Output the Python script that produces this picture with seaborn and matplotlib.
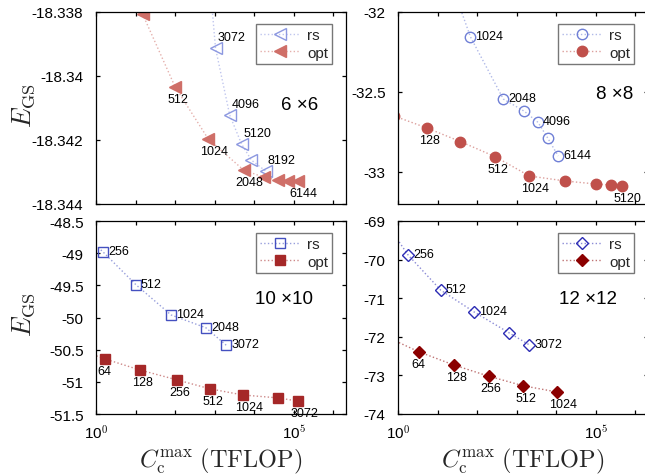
import math

import matplotlib
matplotlib.use("Agg")
import matplotlib.pyplot as plt
import pandas as pd
import seaborn as sns
from matplotlib.colors import to_rgb
from matplotlib.ticker import FixedLocator, FuncFormatter, NullLocator

# ---------------- data: max contraction cost (TFLOP) vs ground-state energy ----------------
# 6x6 lattice
c66_rs = [560, 1050, 2400, 4800, 8500, 19500]
e66_rs = [-18.3352, -18.33913, -18.34122, -18.34213, -18.34263, -18.34297]
lab66_rs = ["", "3072", "4096", "5120", "", "8192"]
c66_opt = [15, 100, 690, 5400, 18000, 39000, 71000, 126000]
e66_opt = [-18.33806, -18.34034, -18.34197, -18.34294, -18.34317, -18.34324, -18.34327, -18.34329]
lab66_opt = ["", "512", "1024", "2048", "", "", "", "6144"]

# 8x8 lattice
c88_rs = [10, 68, 460, 1550, 3470, 6170, 11200]
e88_rs = [-31.58, -32.156, -32.544, -32.62, -32.69, -32.79, -32.90]
lab88_rs = ["", "1024", "2048", "", "4096", "", "6144"]
c88_opt = [0.8, 5.4, 38, 290, 2100, 16600, 100000, 240000, 450000]
e88_opt = [-32.65, -32.725, -32.81, -32.905, -33.025, -33.056, -33.075, -33.081, -33.088]
lab88_opt = ["", "128", "", "512", "1024", "", "", "", "5120"]

# 10x10 lattice
c1010_rs = [0.32, 1.5, 10.2, 79, 600, 1950]
e1010_rs = [-48.6, -48.98, -49.49, -49.96, -50.16, -50.43]
lab1010_rs = ["", "256", "512", "1024", "2048", "3072"]
c1010_opt = [0.25, 1.7, 12.9, 112, 776, 5250, 40700, 129000]
e1010_opt = [-50.46, -50.645, -50.816, -50.97, -51.11, -51.205, -51.25, -51.30]
lab1010_opt = ["", "64", "128", "256", "512", "1024", "", "3072"]

# 12x12 lattice
c1212_rs = [0.25, 1.8, 12, 85, 650, 2100]
e1212_rs = [-68.6, -69.88, -70.79, -71.36, -71.90, -72.21]
lab1212_rs = ["", "256", "512", "1024", "", "3072"]
c1212_opt = [0.4, 3.4, 25.7, 195, 1480, 10500]
e1212_opt = [-71.95, -72.39, -72.73, -73.02, -73.27, -73.43]
lab1212_opt = ["", "64", "128", "256", "512", "1024"]

panel_titles = ["6 \u00d76", "8 \u00d78", "10 \u00d710", "12 \u00d712"]
yticks_66 = [-18.338, -18.340, -18.342, -18.344]
yticks_88 = [-32.0, -32.5, -33.0]
yticks_1010 = [-48.5, -49.0, -49.5, -50.0, -50.5, -51.0, -51.5]
yticks_1212 = [-69, -70, -71, -72, -73, -74]

# ---------------- style ----------------
sns.set_theme(style="ticks")
plt.rcParams["font.family"] = ["Liberation Sans", "DejaVu Sans"]
plt.rcParams["mathtext.fontset"] = "cm"
plt.rcParams["axes.unicode_minus"] = False

W, H = 645, 477
fig = plt.figure(figsize=(W / 100, H / 100), dpi=100)


def add_axes_px(x0, y0, x1, y1):
    return fig.add_axes([x0 / W, 1 - y1 / H, (x1 - x0) / W, (y1 - y0) / H])


def tint(color, amount):
    r, g, b = to_rgb(color)
    return (r + (1 - r) * amount, g + (1 - g) * amount, b + (1 - b) * amount)


panels = [
    dict(ax=add_axes_px(96, 13, 346, 205), ylim=(-18.344, -18.338), yticks=yticks_66,
         rs=(c66_rs, e66_rs, lab66_rs), opt=(c66_opt, e66_opt, lab66_opt),
         marker="<", ms=9, rs_col="#8c98e0", opt_col="#cf6f68",
         rs_off=(2, 11), title_pos=(0.816, 0.516), bottom=False, left=True),
    dict(ax=add_axes_px(398, 13, 648, 205), ylim=(-33.2, -32.0), yticks=yticks_88,
         rs=(c88_rs, e88_rs, lab88_rs), opt=(c88_opt, e88_opt, lab88_opt),
         marker="o", ms=7.5, rs_col="#6f7fd6", opt_col="#c0504b",
         rs_off=(5, 1), title_pos=(0.868, 0.578), bottom=False, left=False),
    dict(ax=add_axes_px(96, 222, 346, 415), ylim=(-51.5, -48.5), yticks=yticks_1010,
         rs=(c1010_rs, e1010_rs, lab1010_rs), opt=(c1010_opt, e1010_opt, lab1010_opt),
         marker="s", ms=6.5, rs_col="#4450c0", opt_col="#a52828",
         rs_off=(5, 1), title_pos=(0.752, 0.596), bottom=True, left=True),
    dict(ax=add_axes_px(398, 222, 648, 415), ylim=(-74, -69), yticks=yticks_1212,
         rs=(c1212_rs, e1212_rs, lab1212_rs), opt=(c1212_opt, e1212_opt, lab1212_opt),
         marker="D", ms=6.5, rs_col="#2c2cb4", opt_col="#8b0000",
         rs_off=(5, 1), title_pos=(0.76, 0.601), bottom=True, left=False),
]


def xtick_fmt(v, pos):
    k = int(round(math.log10(v)))
    if k in (0, 5):
        return "10$^{\\mathsf{%d}}$" % k
    return ""


for p, title in zip(panels, panel_titles):
    ax = p["ax"]
    for name, filled in (("rs", False), ("opt", True)):
        c, e, labs = p[name]
        col = p["rs_col"] if name == "rs" else p["opt_col"]
        df = pd.DataFrame({"C": c, "E": e})
        sns.lineplot(data=df, x="C", y="E", ax=ax, sort=False, estimator=None,
                     color=tint(col, 0.45), linestyle=":", linewidth=1.0,
                     marker=p["marker"], markersize=p["ms"],
                     markerfacecolor=col if filled else "none",
                     markeredgecolor=col, markeredgewidth=1.0, label=name)
        for ci, ei, lab in zip(c, e, labs):
            if not lab:
                continue
            off = (-8, -12) if name == "opt" else p["rs_off"]
            ax.annotate(lab, (ci, ei), xytext=off, textcoords="offset pixels",
                        ha="left", va="center", fontsize=9, color="black")

    ax.set_xscale("log")
    ax.set_xlim(1, 10 ** 6.32)
    ax.set_ylim(*p["ylim"])
    ax.xaxis.set_major_locator(FixedLocator([10.0 ** k for k in range(0, 7)]))
    ax.xaxis.set_minor_locator(NullLocator())
    ax.yaxis.set_major_locator(FixedLocator(p["yticks"]))
    ax.yaxis.set_minor_locator(NullLocator())
    ax.yaxis.set_major_formatter(FuncFormatter(lambda v, pos: f"{v:g}"))
    if p["bottom"]:
        ax.xaxis.set_major_formatter(FuncFormatter(xtick_fmt))
        ax.set_xlabel(r"$C_{\rm c}^{\rm max}\ (\rm TFLOP)$", fontsize=17.5)
        ax.xaxis.set_label_coords(0.5, -0.165)
    else:
        ax.xaxis.set_major_formatter(FuncFormatter(lambda v, pos: ""))
        ax.set_xlabel("")
    if p["left"]:
        ax.set_ylabel(r"$E_{\rm GS}$", fontsize=19)
        ax.yaxis.set_label_coords(-0.235, 0.52)
    else:
        ax.set_ylabel("")

    ax.tick_params(axis="both", which="major", direction="in", length=3, width=0.9,
                   top=True, right=True, labelsize=11, color="black", labelcolor="black")
    ax.tick_params(axis="y", pad=9)
    ax.tick_params(axis="x", pad=7)
    for s in ax.spines.values():
        s.set_visible(True)
        s.set_color("black")
        s.set_linewidth(0.9)

    ax.text(*p["title_pos"], title, transform=ax.transAxes, ha="center", va="center",
            fontsize=13.5, color="black")

    leg = ax.legend(loc="upper right", bbox_to_anchor=(0.944, 0.937), borderaxespad=0,
                    fontsize=11, frameon=True, fancybox=False, framealpha=1,
                    edgecolor="#777777", handlelength=2.6, handletextpad=0.5,
                    borderpad=0.25, labelspacing=0.25)
    leg.get_frame().set_linewidth(1.0)

fig.savefig("out.png", dpi=100)
